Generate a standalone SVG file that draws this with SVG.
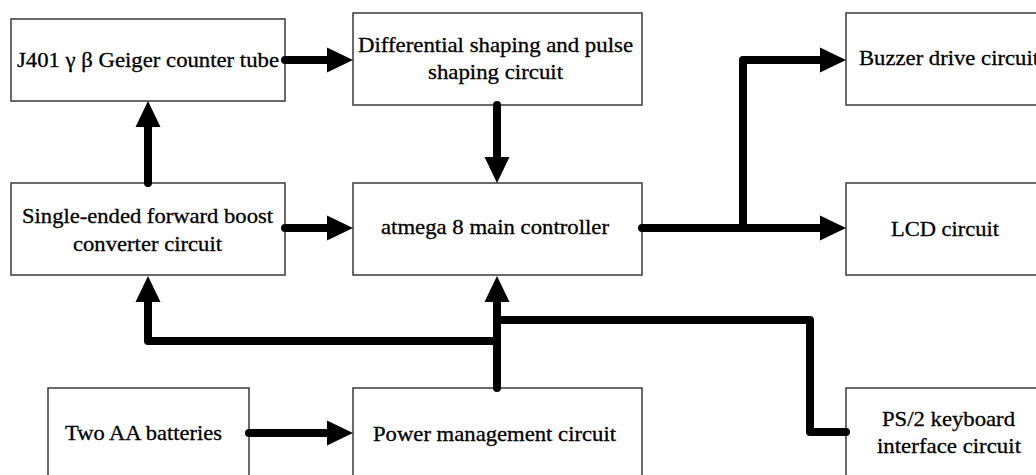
<svg xmlns="http://www.w3.org/2000/svg" width="1036" height="475" viewBox="0 0 1036 475">
  <style>
    .box { fill: #ffffff; stroke: #3a3a3a; stroke-width: 1.5; }
    .lbl { font-family: "Liberation Serif", "Times New Roman", serif; font-size: 21px; fill: #000; stroke: #000; stroke-width: 0.3; text-anchor: middle; }
    .wire { fill: none; stroke: #000; stroke-width: 8; stroke-linecap: round; stroke-linejoin: round; }
    .arrow { marker-end: url(#head); }
  </style>
  <defs>
    <!-- arrowhead: its base sits on the end of the wire, tip points forward -->
    <marker id="head" markerUnits="userSpaceOnUse" markerWidth="27" markerHeight="26" refX="0" refY="12.5" orient="auto" overflow="visible">
      <path d="M0,0 L26,12.5 L0,25 Z" fill="#000"/>
    </marker>
  </defs>
  <rect width="1036" height="475" fill="#ffffff"/>

  <g id="geiger-tube">
    <rect class="box" x="11" y="19" width="274" height="82"/>
    <text class="lbl" x="148" y="67" textLength="262" lengthAdjust="spacingAndGlyphs">J401 γ β Geiger counter tube</text>
  </g>

  <g id="pulse-shaping">
    <rect class="box" x="353" y="13" width="289" height="92"/>
    <text class="lbl" x="495.5" y="52" textLength="275" lengthAdjust="spacingAndGlyphs">Differential shaping and pulse</text>
    <text class="lbl" x="495.5" y="79" textLength="135" lengthAdjust="spacingAndGlyphs">shaping circuit</text>
  </g>

  <g id="buzzer-drive">
    <rect class="box" x="846" y="13" width="200" height="92"/>
    <text class="lbl" x="949" y="65" textLength="180" lengthAdjust="spacingAndGlyphs">Buzzer drive circuit</text>
  </g>

  <g id="boost-converter">
    <rect class="box" x="11" y="183" width="274" height="92"/>
    <text class="lbl" x="147.5" y="223" textLength="251" lengthAdjust="spacingAndGlyphs">Single-ended forward boost</text>
    <text class="lbl" x="147.5" y="251" textLength="149" lengthAdjust="spacingAndGlyphs">converter circuit</text>
  </g>

  <g id="main-controller">
    <rect class="box" x="353" y="183" width="289" height="92"/>
    <text class="lbl" x="495" y="234" textLength="228" lengthAdjust="spacingAndGlyphs">atmega 8 main controller</text>
  </g>

  <g id="lcd">
    <rect class="box" x="846" y="183" width="200" height="92"/>
    <text class="lbl" x="945" y="236" textLength="108" lengthAdjust="spacingAndGlyphs">LCD circuit</text>
  </g>

  <g id="batteries">
    <rect class="box" x="48" y="388" width="201" height="100"/>
    <text class="lbl" x="143.5" y="440" textLength="157" lengthAdjust="spacingAndGlyphs">Two AA batteries</text>
  </g>

  <g id="power-management">
    <rect class="box" x="353" y="388" width="289" height="100"/>
    <text class="lbl" x="494.5" y="441" textLength="243" lengthAdjust="spacingAndGlyphs">Power management circuit</text>
  </g>

  <g id="ps2-keyboard">
    <rect class="box" x="846" y="388" width="200" height="100"/>
    <text class="lbl" x="948.5" y="426" textLength="133" lengthAdjust="spacingAndGlyphs">PS/2 keyboard</text>
    <text class="lbl" x="949" y="453" textLength="144" lengthAdjust="spacingAndGlyphs">interface circuit</text>
  </g>

  <g id="connectors">
    <!-- signal path -->
    <path class="wire arrow" d="M285,60 H327"/>
    <path class="wire arrow" d="M497,105 V157"/>
    <path class="wire arrow" d="M148,183 V127"/>
    <path class="wire arrow" d="M285,228 H327"/>
    <!-- controller outputs -->
    <path class="wire arrow" d="M642,228 H743 V60 H820"/>
    <path class="wire arrow" d="M743,228 H820"/>
    <!-- power distribution -->
    <path class="wire arrow" d="M249,433 H327"/>
    <path class="wire arrow" d="M497,388 V302"/>
    <path class="wire arrow" d="M497,341 H148 V302"/>
    <path class="wire" d="M497,320 H810 V432 H846"/>
  </g>
</svg>
